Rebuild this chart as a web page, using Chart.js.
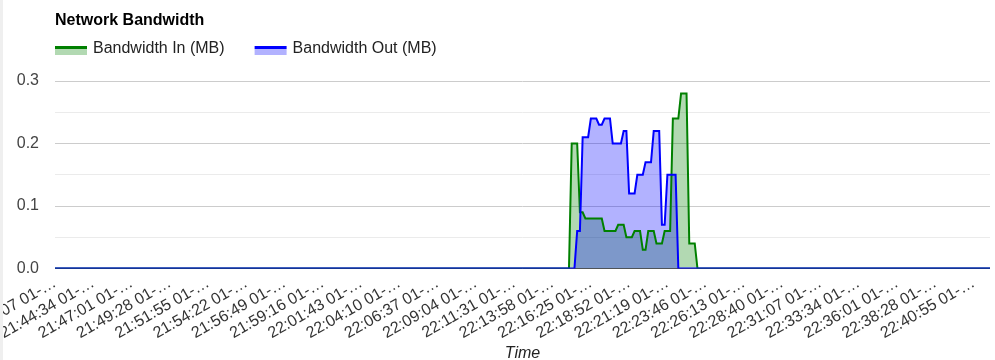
<!DOCTYPE html>
<html>
<head>
<meta charset="utf-8">
<title>Network Bandwidth</title>
<script src="https://cdn.jsdelivr.net/npm/chart.js@4.4.1/dist/chart.umd.min.js"></script>
<style>
  body { margin: 0; background: #fff; }
  #wrap { position: relative; width: 995px; height: 360px; }
  #edge { position: absolute; left: 0; top: 0; width: 3px; height: 360px; background: #efefef; }
</style>
</head>
<body>
<div id="wrap">
  <canvas id="chart" width="995" height="360"></canvas>
  <div id="edge"></div>
</div>
<script>
// one sample every 10.5 s, a time label every 14 samples
const labelEvery = 14

const timeLabels = [
  '21:42:07 01-…', '21:44:34 01-…', '21:47:01 01-…', '21:49:28 01-…', '21:51:55 01-…',
  '21:54:22 01-…', '21:56:49 01-…', '21:59:16 01-…', '22:01:43 01-…', '22:04:10 01-…',
  '22:06:37 01-…', '22:09:04 01-…', '22:11:31 01-…', '22:13:58 01-…', '22:16:25 01-…',
  '22:18:52 01-…', '22:21:19 01-…', '22:23:46 01-…', '22:26:13 01-…', '22:28:40 01-…',
  '22:31:07 01-…', '22:33:34 01-…', '22:36:01 01-…', '22:38:28 01-…', '22:40:55 01-…'
]

// MB per sample
const bwIn = [
  0,0,0,0,0,0,0,0,0,0,0,0,0,0,0,0,0,0,0,0,
  0,0,0,0,0,0,0,0,0,0,0,0,0,0,0,0,0,0,0,0,
  0,0,0,0,0,0,0,0,0,0,0,0,0,0,0,0,0,0,0,0,
  0,0,0,0,0,0,0,0,0,0,0,0,0,0,0,0,0,0,0,0,
  0,0,0,0,0,0,0,0,0,0,0,0,0,0,0,0,0,0,0,0,
  0,0,0,0,0,0,0,0,0,0,0,0,0,0,0,0,0,0,0,0,
  0,0,0,0,0,0,0,0,0,0,0,0,0,0,0,0,0,0,0,0,
  0,0,0,0,0,0,0,0,0,0,0,0,0,0,0,0,0,0,0,0,
  0,0,0,0,0,0,0,0,0,0,0,0,0,0,0,0,0,0,0,0,
  0,0,0,0,0,0,0,0,0,
  0.2,0.2,0.2,0.09,0.09,0.08,0.08,0.08,0.08,0.08,0.08,0.08,
  0.06,0.06,0.06,0.06,0.06,0.07,0.07,0.07,0.05,0.05,0.05,
  0.06,0.06,0.06,0.03,0.03,0.06,0.06,0.06,0.04,0.04,0.04,
  0.06,0.06,0.06,0.24,0.24,0.24,0.28,0.28,0.28,0.04,0.04,0.04,
  0,0,0,0,0,0,0,0,0,0,0,0,0,0,0,0,0,0,0,0,
  0,0,0,0,0,0,0,0,0,0,0,0,0,0,0,0,0,0,0,0,
  0,0,0,0,0,0,0,0,0,0,0,0,0,0,0,0,0,0,0,0,
  0,0,0,0,0,0,0,0,0,0,0,0,0,0,0,0,0,0,0,0,
  0,0,0,0,0,0,0,0,0,0,0,0,0,0,0,0,0,0,0,0,
  0,0,0,0,0,0,0,0
]

const bwOut = [
  0,0,0,0,0,0,0,0,0,0,0,0,0,0,0,0,0,0,0,0,
  0,0,0,0,0,0,0,0,0,0,0,0,0,0,0,0,0,0,0,0,
  0,0,0,0,0,0,0,0,0,0,0,0,0,0,0,0,0,0,0,0,
  0,0,0,0,0,0,0,0,0,0,0,0,0,0,0,0,0,0,0,0,
  0,0,0,0,0,0,0,0,0,0,0,0,0,0,0,0,0,0,0,0,
  0,0,0,0,0,0,0,0,0,0,0,0,0,0,0,0,0,0,0,0,
  0,0,0,0,0,0,0,0,0,0,0,0,0,0,0,0,0,0,0,0,
  0,0,0,0,0,0,0,0,0,0,0,0,0,0,0,0,0,0,0,0,
  0,0,0,0,0,0,0,0,0,0,0,0,0,0,0,0,0,0,0,0,
  0,0,0,0,0,0,0,0,0,0,0,
  0.06,0.06,0.21,0.21,0.21,0.24,0.24,0.24,0.23,0.23,
  0.24,0.24,0.24,0.2,0.2,0.2,0.2,0.22,0.22,
  0.12,0.12,0.12,0.15,0.15,0.15,0.17,0.17,0.17,
  0.22,0.22,0.22,0.07,0.07,0.15,0.15,0.15,0.15,
  0,0,0,0,0,0,0,0,0,0,0,0,0,0,0,0,0,0,0,0,
  0,0,0,0,0,0,0,0,0,0,0,0,0,0,0,0,0,0,0,0,
  0,0,0,0,0,0,0,0,0,0,0,0,0,0,0,0,0,0,0,0,
  0,0,0,0,0,0,0,0,0,0,0,0,0,0,0,0,0,0,0,0,
  0,0,0,0,0,0,0,0,0,0,0,0,0,0,0,0,0,0,0,0,
  0,0,0,0,0,0,0,0,0,0,0,0,0,0,0
]

const FONT = "Arial, 'Liberation Sans', sans-serif"

// only every 14th sample carries a visible time
const labels = bwIn.map((v, i) => i % labelEvery === 0 ? timeLabels[i / labelEvery] : '')

// title and legend drawn google-style above the plot
const headerPlugin = {
  id: 'header',
  afterDraw(chart) {
    const ctx = chart.ctx
    let x = chart.chartArea.left
    ctx.save()
    ctx.textBaseline = 'alphabetic'
    ctx.fillStyle = '#000'
    ctx.font = 'bold 16px ' + FONT
    ctx.fillText('Network Bandwidth', x, 25)

    ctx.font = '16px ' + FONT
    chart.data.datasets.forEach(ds => {
      ctx.fillStyle = ds.backgroundColor
      ctx.fillRect(x, 49, 32, 6)
      ctx.strokeStyle = ds.borderColor
      ctx.lineWidth = 3
      ctx.beginPath()
      ctx.moveTo(x, 47.5)
      ctx.lineTo(x + 32, 47.5)
      ctx.stroke()
      ctx.fillStyle = '#222'
      ctx.fillText(ds.label, x + 38, 53)
      x += 38 + ctx.measureText(ds.label).width + 30
    })
    ctx.restore()
  }
}

function isMajor(v){
  return Math.round(v * 100) % 10 === 0
}

new Chart(document.getElementById('chart'), {
  type: 'line',
  data: {
    labels: labels,
    datasets: [
      {
        label: 'Bandwidth In (MB)',
        data: bwIn,
        borderColor: '#008000',
        backgroundColor: 'rgba(0, 128, 0, 0.3)',
        borderWidth: 2,
        fill: 'origin',
        order: 1
      },
      {
        label: 'Bandwidth Out (MB)',
        data: bwOut,
        borderColor: '#0000ff',
        backgroundColor: 'rgba(0, 0, 255, 0.3)',
        borderWidth: 2,
        fill: 'origin',
        order: 0
      }
    ]
  },
  options: {
    responsive: false,
    animation: false,
    devicePixelRatio: 1,
    layout: { padding: { top: 81, right: 5, bottom: 0, left: 0 } },
    elements: {
      point: { radius: 0, hoverRadius: 0 },
      line: { tension: 0, borderJoinStyle: 'miter' }
    },
    plugins: {
      legend: { display: false },
      title: { display: false },
      tooltip: { enabled: false },
      // all areas first, lines on top of them
      filler: { drawTime: 'beforeDatasetsDraw' }
    },
    scales: {
      x: {
        grid: { display: false },
        border: { display: false },
        ticks: {
          autoSkip: false,
          minRotation: 30,
          maxRotation: 30,
          padding: -3,
          color: '#333',
          font: { family: FONT, size: 16 }
        },
        title: {
          display: true,
          text: 'Time',
          color: '#222',
          padding: { top: 0, bottom: 0 },
          font: { family: FONT, size: 16, style: 'italic', lineHeight: 0.8 }
        },
        afterFit(scale) {
          scale.height = 91.5
          scale.paddingLeft = 0
          scale.paddingRight = 0
        }
      },
      y: {
        min: 0,
        max: 0.3,
        border: { display: false },
        grid: {
          drawTicks: false,
          color: ctx => {
            const v = ctx.tick.value
            if (Math.abs(v) < 1e-9) return '#555'
            return isMajor(v) ? '#cccccc' : '#ebebeb'
          }
        },
        ticks: {
          stepSize: 0.05,
          padding: 16,
          color: '#444',
          font: { family: FONT, size: 16 },
          callback: v => isMajor(v) ? v.toFixed(1) : ''
        },
        afterFit(scale) {
          scale.width = 55
        }
      }
    }
  },
  plugins: [headerPlugin]
})
</script>
</body>
</html>
